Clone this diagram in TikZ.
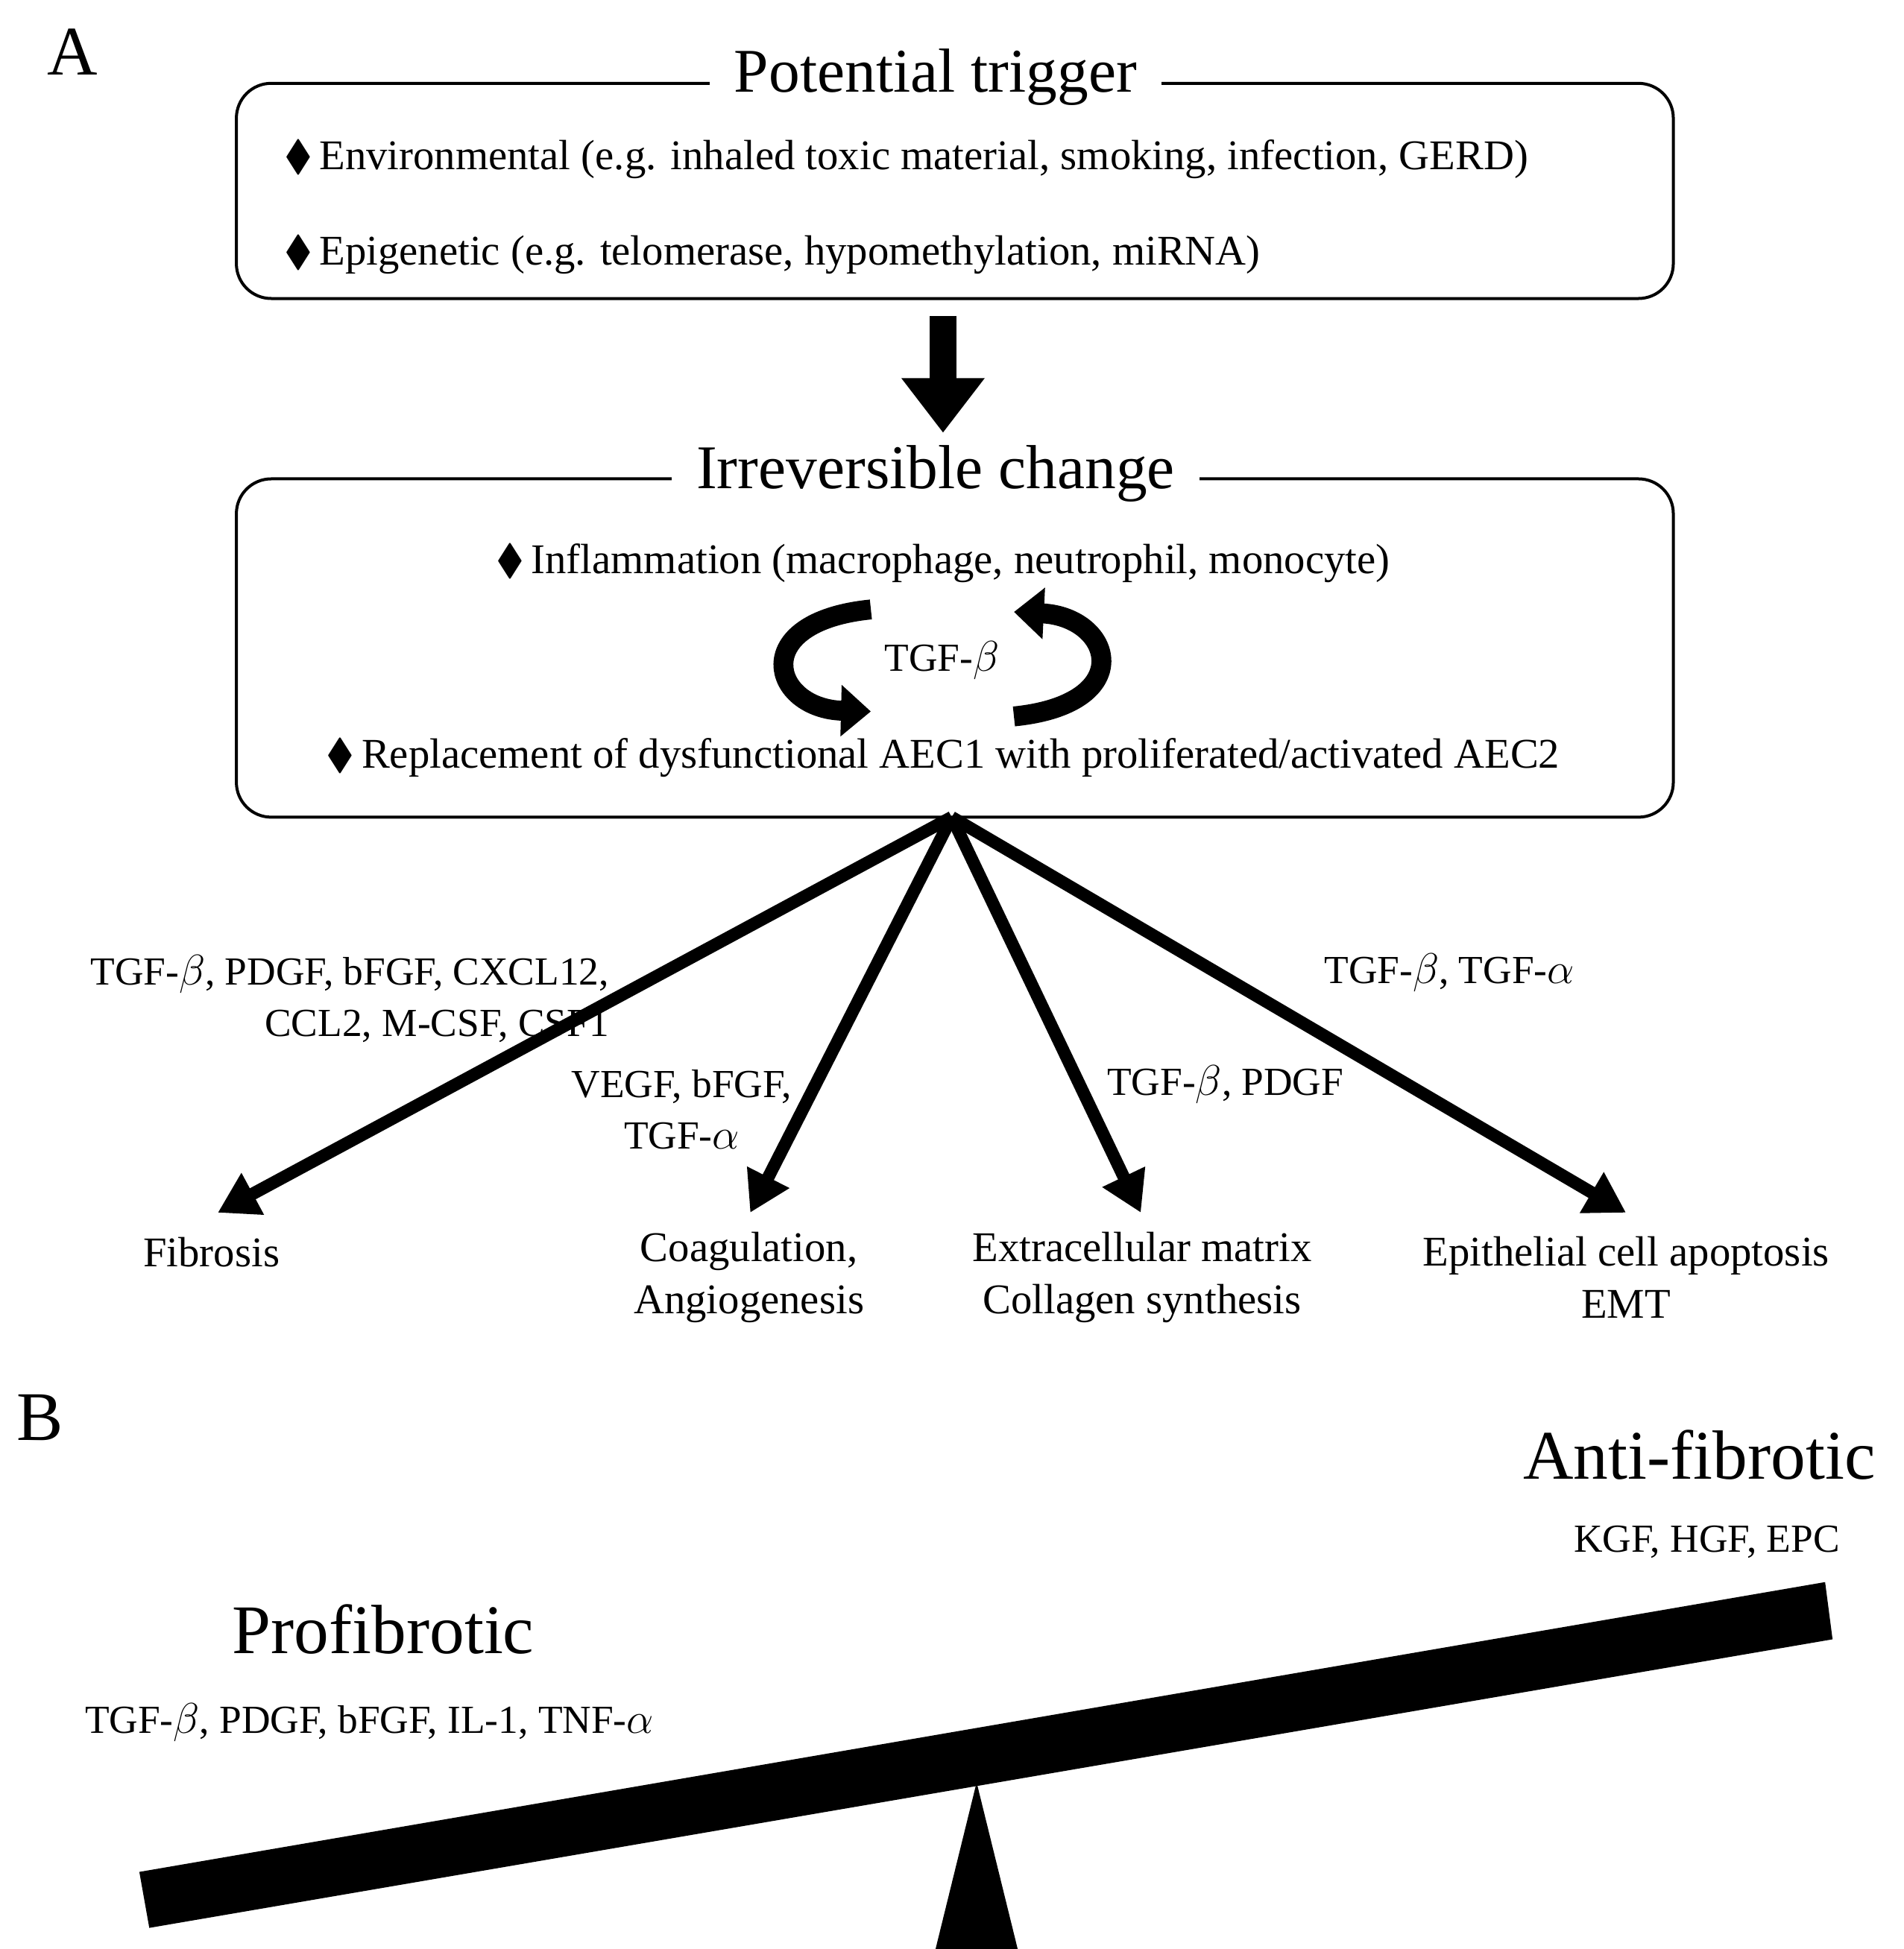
\documentclass[tikz,border=0pt]{standalone}
\usepackage{fontspec}
\setmainfont{Liberation Serif}
\usepackage{amssymb}
\usetikzlibrary{arrows.meta, positioning, calc}
\tikzset{
    boxnode/.style = {draw, rounded corners=14pt, line width=1.2pt},
    titlenode/.style = {fill=white, inner xsep=10pt, font=\fontsize{25}{28}\selectfont},
    textnode/.style = {inner sep=0pt, align=center, font=\fontsize{17}{21}\selectfont},
    labelnode/.style = {inner sep=0pt, font=\fontsize{16}{20.5}\selectfont},
    bignode/.style = {inner sep=0pt, font=\fontsize{28}{32}\selectfont},
    branch/.style = {line width=5pt, -{Triangle[length=16pt,width=18pt]}},
    cycle/.style = {line width=8pt, -{Triangle[length=12pt,width=20pt]}}
}
\newcommand{\bul}{$\blacklozenge$\,}
\begin{document}
\begin{tikzpicture}[x=0.5pt, y=-0.5pt]
    \useasboundingbox (0,0) rectangle (1530,1567);
    % panel A
    \node [bignode] (A) at (58,42) {A};
    \draw [boxnode] (190,67) rectangle (1345,240);
    \node [titlenode] (trigger) at (752,62) {Potential trigger};
    \node [textnode, anchor=west] (env) at (228,128) {\bul Environmental (e.g. inhaled toxic material, smoking, infection, GERD)};
    \node [textnode, anchor=west] (epi) at (228,205) {\bul Epigenetic (e.g. telomerase, hypomethylation, miRNA)};

    \coordinate (down1) at (758,254);
    \coordinate (down2) at (758,348);
    \draw [line width=11pt, -{Triangle[length=22pt,width=32pt]}] (down1) -- (down2);

    \draw [boxnode] (190,385) rectangle (1345,657);
    \node [titlenode] (change) at (752,381) {Irreversible change};
    \node [textnode] (inflam) at (758,453) {\bul Inflammation (macrophage, neutrophil, monocyte)};
    \node [labelnode] (tgf) at (757,531) {TGF-$\beta$};
    \node [textnode] (repl) at (758,609) {\bul Replacement of dysfunctional AEC1 with proliferated/activated AEC2};
    \draw [cycle] (700,490) .. controls (600,500) and (620,570) .. (700,572);
    \draw [cycle] (815,576) .. controls (915,566) and (895,496) .. (815,492);

    % branches
    \coordinate (hub) at (765,657);
    \node [textnode] (fib) at (170,1007) {Fibrosis};
    \node [textnode] (coag) at (602,1027) {Coagulation,\\Angiogenesis};
    \node [textnode] (ecm) at (918,1027) {Extracellular matrix\\Collagen synthesis};
    \node [textnode] (apo) at (1307,1027) {Epithelial cell apoptosis\\EMT};
    \coordinate (fibtip) at (175,975);
    \coordinate (coagtip) at (603,975);
    \coordinate (ecmtip) at (917,975);
    \coordinate (apotip) at (1307,975);
    \draw [branch] (hub) -- (fibtip);
    \draw [branch] (hub) -- (coagtip);
    \draw [branch] (hub) -- (ecmtip);
    \draw [branch] (hub) -- (apotip);
    \node [labelnode, align=right, anchor=east] (lab1) at (490,803) {TGF-$\beta$, PDGF, bFGF, CXCL12,\\CCL2, M-CSF, CSF1};
    \node [labelnode, align=center] (lab2) at (548,892) {VEGF, bFGF,\\TGF-$\alpha$};
    \node [labelnode] (lab3) at (985,872) {TGF-$\beta$, PDGF};
    \node [labelnode] (lab4) at (1165,782) {TGF-$\beta$, TGF-$\alpha$};

    % panel B
    \node [bignode] (B) at (32,1140) {B};
    \node [bignode] (anti) at (1366,1170) {Anti-fibrotic};
    \node [labelnode] (antilist) at (1372,1240) {KGF, HGF, EPC};
    \node [bignode] (pro) at (308,1310) {Profibrotic};
    \node [labelnode] (prolist) at (297,1385) {TGF-$\beta$, PDGF, bFGF, IL-1, TNF-$\alpha$};
    \fill (112,1505) -- (1467,1272) -- (1473,1318) -- (120,1550) -- cycle;
    \fill (785,1433) -- (818,1567) -- (752,1567) -- cycle;
\end{tikzpicture}
\end{document}
